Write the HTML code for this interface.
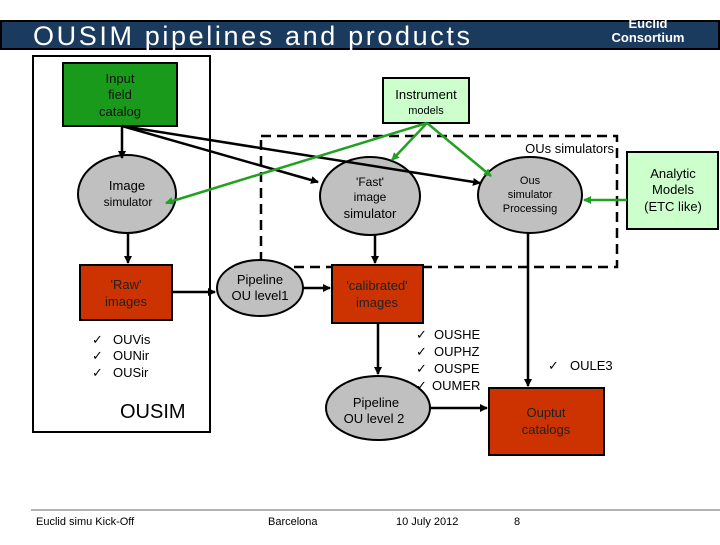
<!DOCTYPE html>
<html><head><meta charset="utf-8"><style>
body{margin:0;width:720px;height:540px;background:#fff;overflow:hidden;font-family:"Liberation Sans",sans-serif}
</style></head><body>
<svg width="720" height="540" viewBox="0 0 720 540" xmlns="http://www.w3.org/2000/svg" font-family="Liberation Sans, sans-serif">
<defs>
<marker id="ab" markerWidth="8" markerHeight="8" refX="7" refY="4" orient="auto" markerUnits="userSpaceOnUse"><path d="M0,0 L8,4 L0,8 z" fill="#000"/></marker>
<marker id="ag" markerWidth="8" markerHeight="8" refX="7" refY="4" orient="auto" markerUnits="userSpaceOnUse"><path d="M0,0 L8,4 L0,8 z" fill="#22a022"/></marker>
</defs>
<rect x="1" y="21" width="718" height="28" fill="#1b3b5e" stroke="#000" stroke-width="2"/>
<text x="33" y="45" font-size="27" fill="#fff" textLength="437" lengthAdjust="spacing">OUSIM pipelines and products</text>
<text x="648" y="28" font-size="13" fill="#fff" font-weight="bold" text-anchor="middle">Euclid</text>
<text x="648" y="42" font-size="13" fill="#fff" font-weight="bold" text-anchor="middle">Consortium</text>

<rect x="33" y="56" width="177" height="376" fill="none" stroke="#000" stroke-width="2"/>
<rect x="261" y="136" width="356" height="131" fill="none" stroke="#000" stroke-width="2.5" stroke-dasharray="10,6"/>
<text x="614" y="153" font-size="13" text-anchor="end">OUs simulators</text>

<rect x="63" y="63" width="114" height="63" fill="#1a9a1a" stroke="#000" stroke-width="2"/>
<text font-size="13" text-anchor="middle" fill="#111"><tspan x="120" y="83">Input</tspan><tspan x="120" y="99">field</tspan><tspan x="120" y="116">catalog</tspan></text>

<rect x="383" y="78" width="86" height="45" fill="#ccffcc" stroke="#000" stroke-width="2"/>
<text x="426" y="99" font-size="13" text-anchor="middle">Instrument</text>
<text x="426" y="114" font-size="11" text-anchor="middle">models</text>

<rect x="627" y="152" width="91" height="77" fill="#ccffcc" stroke="#000" stroke-width="2"/>
<text font-size="13" text-anchor="middle"><tspan x="673" y="178">Analytic</tspan><tspan x="673" y="194">Models</tspan><tspan x="673" y="211">(ETC like)</tspan></text>

<ellipse cx="127" cy="194" rx="49" ry="39" fill="#c0c0c0" stroke="#000" stroke-width="2"/>
<text x="127" y="190" font-size="13" text-anchor="middle">Image</text>
<text x="128" y="206" font-size="12" text-anchor="middle">simulator</text>

<ellipse cx="370" cy="196" rx="50" ry="39" fill="#c0c0c0" stroke="#000" stroke-width="2"/>
<text font-size="12" text-anchor="middle"><tspan x="370" y="186">'Fast'</tspan><tspan x="370" y="201">image</tspan><tspan x="370" y="218" font-size="13">simulator</tspan></text>

<ellipse cx="530" cy="195" rx="52" ry="38" fill="#c0c0c0" stroke="#000" stroke-width="2"/>
<text font-size="11" text-anchor="middle"><tspan x="530" y="184">Ous</tspan><tspan x="530" y="198">simulator</tspan><tspan x="530" y="212">Processing</tspan></text>

<rect x="80" y="265" width="92" height="55" fill="#cc3300" stroke="#000" stroke-width="2"/>
<text font-size="13" text-anchor="middle" fill="#222"><tspan x="126" y="289">'Raw'</tspan><tspan x="126" y="306">images</tspan></text>

<ellipse cx="260" cy="288" rx="43" ry="28" fill="#c0c0c0" stroke="#000" stroke-width="2"/>
<text font-size="13" text-anchor="middle"><tspan x="260" y="284">Pipeline</tspan><tspan x="260" y="300">OU level1</tspan></text>

<rect x="332" y="265" width="91" height="58" fill="#cc3300" stroke="#000" stroke-width="2"/>
<text font-size="13" text-anchor="middle" fill="#222"><tspan x="377" y="290">'calibrated'</tspan><tspan x="377" y="307">images</tspan></text>

<ellipse cx="378" cy="408" rx="52" ry="32" fill="#c0c0c0" stroke="#000" stroke-width="2"/>
<text font-size="13" text-anchor="middle"><tspan x="376" y="407">Pipeline</tspan><tspan x="374" y="423">OU level 2</tspan></text>

<rect x="489" y="388" width="115" height="67" fill="#cc3300" stroke="#000" stroke-width="2"/>
<text font-size="13" text-anchor="middle" fill="#222"><tspan x="546" y="417">Ouptut</tspan><tspan x="546" y="434">catalogs</tspan></text>

<g font-size="13">
<text x="92" y="344">✓</text><text x="113" y="344">OUVis</text>
<text x="92" y="360">✓</text><text x="113" y="360">OUNir</text>
<text x="92" y="377">✓</text><text x="113" y="377">OUSir</text>
<text x="416" y="339">✓</text><text x="434" y="339">OUSHE</text>
<text x="416" y="356">✓</text><text x="434" y="356">OUPHZ</text>
<text x="416" y="373">✓</text><text x="434" y="373">OUSPE</text>
<text x="416" y="390">✓</text><text x="432" y="390">OUMER</text>
<text x="548" y="370">✓</text><text x="570" y="370">OULE3</text>
</g>
<text x="120" y="418" font-size="20">OUSIM</text>

<g stroke="#000" stroke-width="2.5" fill="none" marker-end="url(#ab)">
<line x1="122" y1="127" x2="122" y2="158"/>
<line x1="122" y1="126" x2="318" y2="182"/>
<line x1="122" y1="126" x2="480" y2="183"/>
<line x1="128" y1="234" x2="128" y2="263"/>
<line x1="172" y1="292" x2="215" y2="292"/>
<line x1="303" y1="288" x2="330" y2="288"/>
<line x1="375" y1="235" x2="375" y2="263"/>
<line x1="528" y1="233" x2="528" y2="386"/>
<line x1="378" y1="323" x2="378" y2="374"/>
<line x1="430" y1="408" x2="487" y2="408"/>
</g>
<g stroke="#22a022" stroke-width="2.5" fill="none" marker-end="url(#ag)">
<line x1="427" y1="123" x2="166" y2="203"/>
<line x1="427" y1="123" x2="392" y2="160"/>
<line x1="427" y1="123" x2="491" y2="176"/>
<line x1="627" y1="200" x2="584" y2="200"/>
</g>

<line x1="31" y1="510" x2="720" y2="510" stroke="#666" stroke-width="1"/>
<g font-size="11"><text x="36" y="525">Euclid simu Kick-Off</text><text x="268" y="525">Barcelona</text><text x="396" y="525">10 July 2012</text><text x="514" y="525">8</text></g>
</svg>
</body></html>
